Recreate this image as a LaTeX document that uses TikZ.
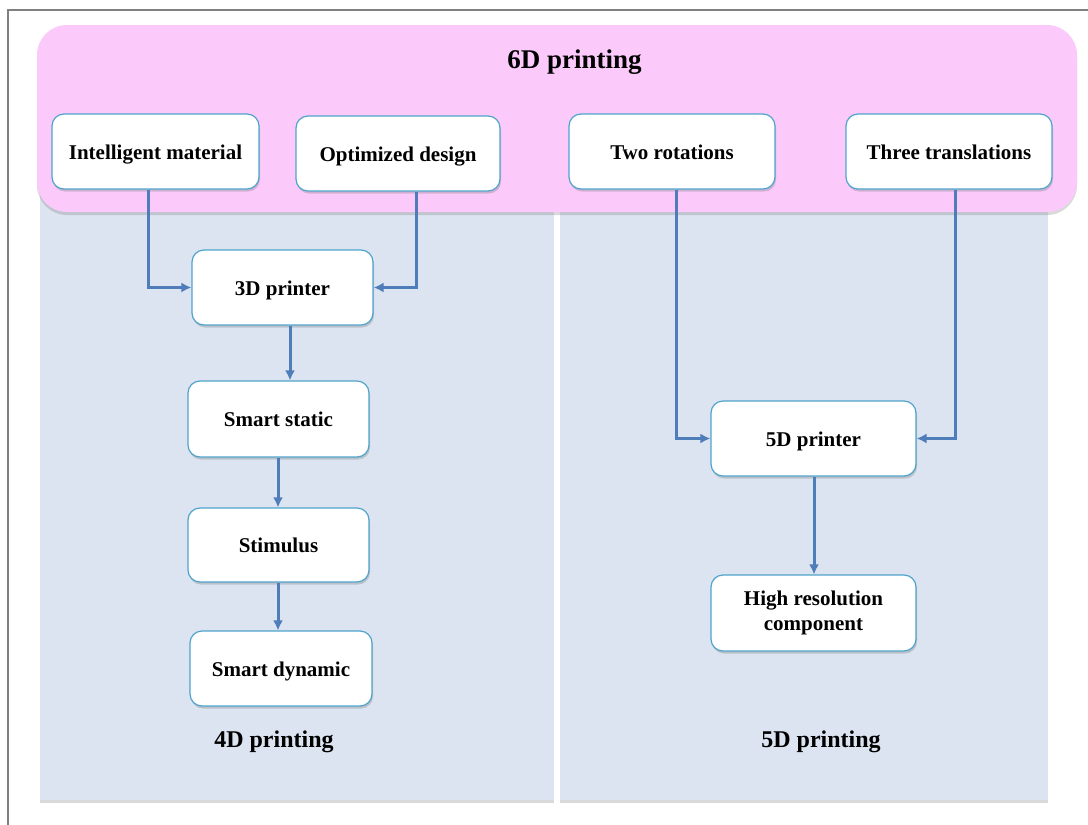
\documentclass[tikz,border=0pt]{standalone}
\usepackage{fontspec}
\setmainfont{Liberation Serif}
\usetikzlibrary{shadows,arrows.meta,calc}
\definecolor{pinkbg}{HTML}{FBCAFB}
\definecolor{panelbg}{HTML}{DBE4F0}
\definecolor{nodeborder}{HTML}{4FA3CC}
\definecolor{arrowc}{HTML}{4F7DBA}
\definecolor{framec}{HTML}{808080}
\tikzset{
  box/.style={draw=nodeborder, line width=1.2pt, fill=white, rounded corners=12pt,
    align=center, font=\fontsize{21}{25}\selectfont\bfseries, inner sep=2pt,
    drop shadow={shadow xshift=1pt, shadow yshift=-2.5pt, opacity=0.35}},
  oneline/.style={text height=15.5pt, text depth=0pt},
  conn/.style={draw=arrowc, line width=3pt, -{Latex[length=10pt,width=10pt]}},
  panel/.style={fill=panelbg, drop shadow={shadow xshift=0pt, shadow yshift=-3pt, opacity=0.3}},
  lbl/.style={font=\fontsize{24}{28}\selectfont\bfseries},
}
\begin{document}
\begin{tikzpicture}[x=1pt,y=-1pt]
\useasboundingbox (0,0) rectangle (1088,825);
% frame
\draw[framec, line width=1.5pt] (8,825) -- (8,10) -- (1088,10);
% panels
\path[panel] (40,150) rectangle (554,800);
\path[panel] (560,150) rectangle (1048,800);
% pink
\path[fill=pinkbg, rounded corners=30pt, drop shadow={shadow xshift=0pt, shadow yshift=-3pt, opacity=0.3}] (37,25) rectangle (1077,212);
\node[font=\fontsize{27}{31}\selectfont\bfseries] (t6) at (574.5,62) {6D printing};
% top nodes
\node[box, oneline, minimum width=207pt, minimum height=75pt] (im) at (155.5,151.5) {Intelligent material};
\node[box, oneline, minimum width=204pt, minimum height=75pt] (od) at (398,153.5) {Optimized design};
\node[box, oneline, minimum width=206pt, minimum height=75pt] (tr) at (672,151.5) {Two rotations};
\node[box, oneline, minimum width=206pt, minimum height=75pt] (tt) at (949,151.5) {Three translations};
% left column
\node[box, oneline, minimum width=181pt, minimum height=75pt] (p3) at (282.5,287.5) {3D printer};
\node[box, oneline, minimum width=181pt, minimum height=76pt] (ss) at (278.5,419) {Smart static};
\node[box, oneline, minimum width=181pt, minimum height=74pt] (st) at (278.5,545) {Stimulus};
\node[box, oneline, minimum width=182pt, minimum height=75pt] (sd) at (281,668.5) {Smart dynamic};
% right column
\node[box, oneline, minimum width=205pt, minimum height=75pt] (p5) at (813.5,438.5) {5D printer};
\node[box, minimum width=205pt, minimum height=76pt] (hr) at (813.5,613) {High resolution\\component};
% labels
\node[lbl] (l4) at (274,742) {4D printing};
\node[lbl] (l5) at (821,742) {5D printing};
% connectors
\draw[conn] (im.south -| 148,0) |- (p3.west);
\draw[conn] (od.south -| 416,0) |- (p3.east);
\draw[conn] (p3.south -| 290,0) -- (ss.north -| 290,0);
\draw[conn] (ss.south -| 278,0) -- (st.north -| 278,0);
\draw[conn] (st.south -| 278,0) -- (sd.north -| 278,0);
\draw[conn] (tr.south -| 676,0) |- (p5.west);
\draw[conn] (tt.south -| 955,0) |- (p5.east);
\draw[conn] (p5.south -| 814,0) -- (hr.north -| 814,0);
\end{tikzpicture}
\end{document}
